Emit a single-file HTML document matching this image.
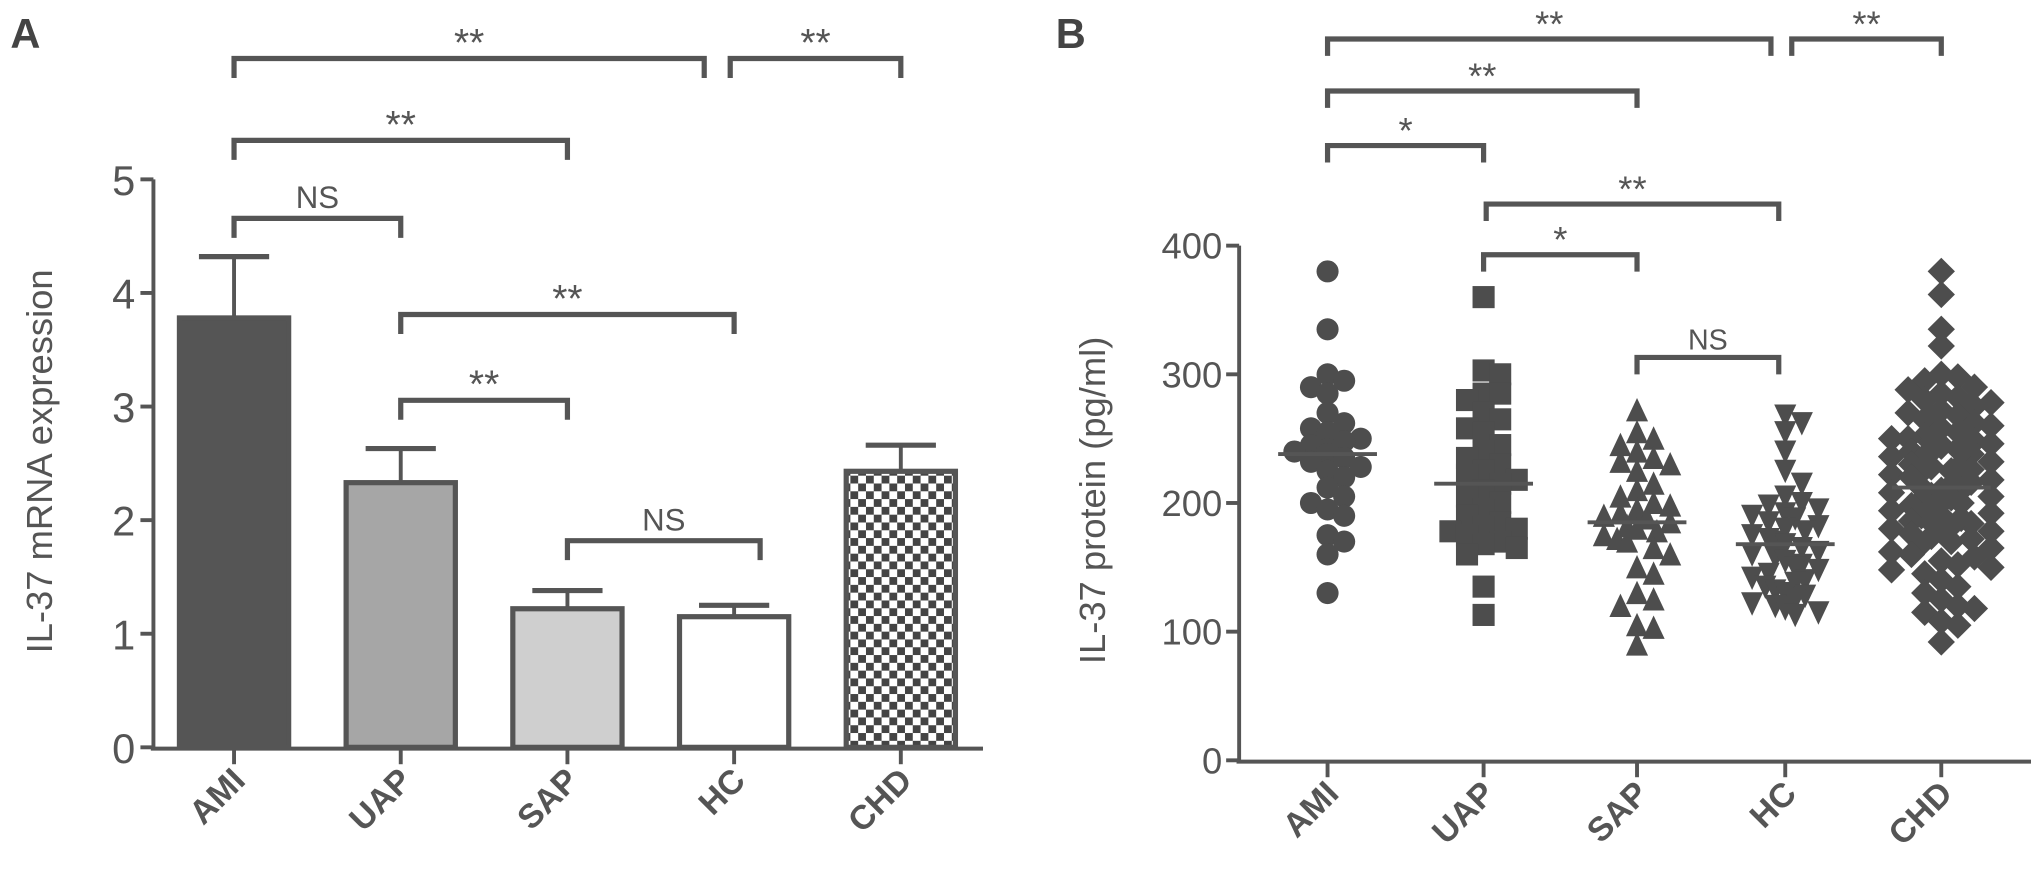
<!DOCTYPE html>
<html><head><meta charset="utf-8"><style>
html,body{margin:0;padding:0;background:#fff;}
svg{display:block;font-family:"Liberation Sans",sans-serif;}
</style></head><body>
<svg id="fig" width="2031" height="876" viewBox="0 0 1562 674" preserveAspectRatio="none" xmlns="http://www.w3.org/2000/svg">
<defs>
<pattern id="chk" width="12" height="12" patternUnits="userSpaceOnUse">
<rect width="12" height="12" fill="#fff"/><rect width="6" height="6" fill="#444"/><rect x="6" y="6" width="6" height="6" fill="#444"/>
</pattern>
</defs>
<g id="pa"></g>
<g id="pb"></g>
</svg>
<script>
const catsA = ["AMI","UAP","SAP","HC","CHD"];
const meanA = [3.78, 2.33, 1.22, 1.15, 2.43];
const errA = [0.54, 0.30, 0.16, 0.10, 0.23];
const ticksA = [0,1,2,3,4,5];
const sigA = [[0,3,"**",1],[3,4,"**",1],[0,2,"**",2],[0,1,"NS",3],[1,3,"**",4],[1,2,"**",5],[2,3,"NS",6]];

const catsB = ["AMI","UAP","SAP","HC","CHD"];
const ticksB = [0,100,200,300,400];
const amiVals = [380,335,300,295,290,285,270,262,258,255,250,248,245,242,240,238,235,232,228,225,220,212,205,200,195,190,175,170,160,130];
const uapVals = [360,303,300,285,285,280,270,265,258,255,245,240,235,230,225,222,218,215,210,205,200,195,190,185,182,180,178,175,170,168,165,160,135,113];
const sapVals = [272,255,250,245,240,235,232,230,225,215,210,205,200,198,195,192,190,188,185,182,180,178,175,172,170,165,160,150,145,130,125,120,105,103,90];
const hcVals = [268,262,255,240,225,215,205,200,198,195,192,190,188,185,182,180,178,175,172,170,168,165,162,160,158,155,152,150,148,145,142,140,138,135,132,130,128,125,122,120,118,115,113];
const chdVals = [380,362,335,322,300,298,295,290,288,285,282,280,278,275,272,270,268,265,262,260,258,255,252,250,248,246,244,242,240,238,236,234,232,230,228,226,224,222,220,218,216,214,212,210,208,206,204,202,200,198,196,194,192,190,188,186,184,182,180,178,176,174,172,170,168,165,162,160,158,155,152,150,148,145,140,135,130,125,120,118,115,108,105,92,250,240,230,220,210,200,190,180,245,225,205,185];
const meanB = [238,215,185,168,212];
const semB = [9,9,7,5,6];
const sigB = [[0,3,"**",1],[3,4,"**",1],[0,2,"**",2],[0,1,"*",3],[1,3,"**",4],[1,2,"*",5],[2,3,"NS",6]];

const NS="http://www.w3.org/2000/svg", C="#555";
function el(p,t,a){const e=document.createElementNS(NS,t);for(const k in a)e.setAttribute(k,a[k]);p.appendChild(e);return e;}
function txt(p,x,y,s,a){const e=el(p,"text",Object.assign({x:x,y:y,fill:C},a));e.textContent=s;return e;}

// Panel A
const pa=document.getElementById('pa');
const ayA=v=>575-v*87.4, axA=i=>180+i*128.2;
const brA=[45,45,108,168,242,308,416];
txt(pa,8,37,"A",{"font-size":32,"font-weight":"bold",fill:"#444"});
let t=txt(pa,0,0,"IL-37 mRNA expression",{"font-size":28,"text-anchor":"middle",transform:"translate(40,355) rotate(-90)"});

let l=el(pa,"line",{x1:118,y1:ayA(5),x2:118,y2:577,stroke:C,"stroke-width":3});

l=el(pa,"line",{x1:116,y1:576,x2:756,y2:576,stroke:C,"stroke-width":3});

ticksA.forEach(v=>{el(pa,"line",{x1:108,y1:ayA(v),x2:118,y2:ayA(v),stroke:C,"stroke-width":3});
 const e=txt(pa,104,ayA(v)+12,String(v),{"font-size":32,"text-anchor":"end"});
 });
const fills=["#555","#a6a6a6","#cfcfcf","#fff","url(#chk)"];
catsA.forEach((c,i)=>{const x=axA(i);
 el(pa,"line",{x1:x,y1:ayA(meanA[i]),x2:x,y2:ayA(meanA[i]+errA[i]),stroke:C,"stroke-width":3});
 el(pa,"line",{x1:x-27,y1:ayA(meanA[i]+errA[i]),x2:x+27,y2:ayA(meanA[i]+errA[i]),stroke:C,"stroke-width":4});
 const r=el(pa,"rect",{x:x-42,y:ayA(meanA[i]),width:84,height:575-ayA(meanA[i]),fill:fills[i],stroke:C,"stroke-width":4});
 
 el(pa,"line",{x1:x,y1:577,x2:x,y2:588,stroke:C,"stroke-width":3});
 const e=txt(pa,0,0,c,{"font-size":26,"font-weight":"bold","text-anchor":"end",transform:`translate(${x+10},${602}) rotate(-45)`});
 });
sigA.forEach((s,k)=>{const y=brA[k];const x1=axA(s[0]),x2=axA(s[1])+(k==0?-23:0)+(k==6?20:0);
 const xa=(k==1)?axA(3)-3:x1;
 const g=el(pa,"path",{d:`M${xa} ${y+15}V${y}H${x2}V${y+15}`,fill:"none",stroke:C,"stroke-width":4});
 
 const e=txt(pa,(xa+x2)/2,s[2]=="NS"?y-8:y-2,s[2],{"font-size":s[2]=="NS"?24:30,"text-anchor":"middle"});
 });

// Panel B
const pb=document.getElementById('pb');
const ayB=v=>585-v*0.99, axB=i=>[1021,1141,1259,1373,1493][i];
const brB=[30,30,70,112,157,196,275];
txt(pb,812,37,"B",{"font-size":32,"font-weight":"bold",fill:"#444"});
t=txt(pb,0,0,"IL-37 protein (pg/ml)",{"font-size":28,"text-anchor":"middle",transform:"translate(850,385) rotate(-90)"});

l=el(pb,"line",{x1:953,y1:ayB(400),x2:953,y2:587,stroke:C,"stroke-width":3});

l=el(pb,"line",{x1:951,y1:586,x2:1562,y2:586,stroke:C,"stroke-width":3});

ticksB.forEach(v=>{el(pb,"line",{x1:943,y1:ayB(v),x2:953,y2:ayB(v),stroke:C,"stroke-width":3});
 const e=txt(pb,940,ayB(v)+10,String(v),{"font-size":28,"text-anchor":"end"});
 });
const groups=[amiVals,uapVals,sapVals,hcVals,chdVals];
const S=15;
function marker(g,shape,x,y){const h=S/2+1;
 if(shape==0)return el(g,"circle",{cx:x,cy:y,r:h,fill:"#4d4d4d"});
 if(shape==1)return el(g,"rect",{x:x-h,y:y-h,width:2*h,height:2*h,fill:"#4d4d4d"});
 if(shape==2)return el(g,"polygon",{points:`${x},${y-h-1} ${x+h},${y+h} ${x-h},${y+h}`,fill:"#4d4d4d"});
 if(shape==3)return el(g,"polygon",{points:`${x},${y+h+1} ${x+h},${y-h} ${x-h},${y-h}`,fill:"#4d4d4d"});
 return el(g,"polygon",{points:`${x},${y-h-2} ${x+h+2},${y} ${x},${y+h+2} ${x-h-2},${y}`,fill:"#4d4d4d"});}
groups.forEach((vals,i)=>{const cx=axB(i);const g=el(pb,"g",{});
 
 const placed=[];const sorted=vals.slice().sort((a,b)=>b-a);
 const maxK=i==4?3:2;
 sorted.forEach((v,j)=>{const y=ayB(v);let off=null;
  const cands=[0];for(let k=1;k<=maxK;k++){cands.push(k*S*0.85,-k*S*0.85);}
  for(const o of cands){if(!placed.some(p=>Math.abs(p[0]-o)<S*0.8&&Math.abs(p[1]-y)<S*0.8)){off=o;break;}}
  if(off===null)off=cands[(j*3)%cands.length]*0.6;
  placed.push([off,y]);
  const m=marker(g,i,cx+off,y);
  
  });
 el(pb,"line",{x1:cx-38,y1:ayB(meanB[i]),x2:cx+38,y2:ayB(meanB[i]),stroke:C,"stroke-width":3});
 el(pb,"line",{x1:cx,y1:587,x2:cx,y2:598,stroke:C,"stroke-width":3});
 const e=txt(pb,0,0,catsB[i],{"font-size":26,"font-weight":"bold","text-anchor":"end",transform:`translate(${cx+10},${612}) rotate(-45)`});
 });
sigB.forEach((s,k)=>{const y=brB[k];let x1=axB(s[0]),x2=axB(s[1]);
 if(k==0)x2-=11; if(k==1)x1+=5; if(k==4||k==6)x2-=5;if(k==4)x1+=2;
 const g=el(pb,"path",{d:`M${x1} ${y+13}V${y}H${x2}V${y+13}`,fill:"none",stroke:C,"stroke-width":4});
 
 const e=txt(pb,(x1+x2)/2,s[2]=="NS"?y-6:y-2,s[2],{"font-size":s[2]=="NS"?22:28,"text-anchor":"middle"});
 });
</script>
</body></html>
